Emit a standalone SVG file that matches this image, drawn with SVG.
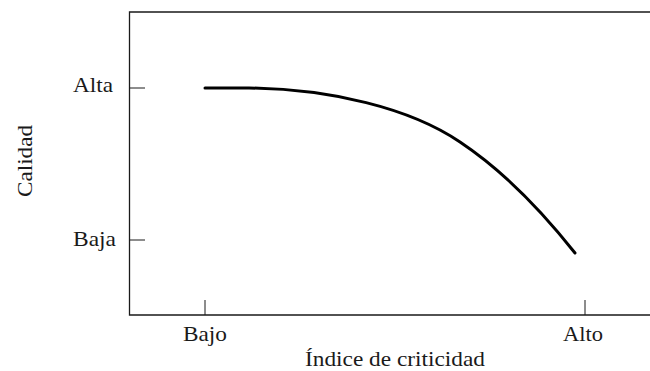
<svg xmlns="http://www.w3.org/2000/svg" width="650" height="371" viewBox="0 0 650 371">
<style>
.ax{stroke:#1a1a1a;stroke-width:1.3;fill:none}
.tk{stroke:#1a1a1a;stroke-width:1;fill:none}
.lb{font-family:'Liberation Serif','Times New Roman',Times,serif;font-size:21px;fill:#1a1a1a}
.cv{stroke:#000;stroke-width:3;fill:none;stroke-linecap:round;stroke-linejoin:round}
</style>
<rect width="650" height="371" fill="#fff"/>
<g id="axes">
<polyline class="ax" points="652,12 129.5,12 129.5,315 652,315"/>
<line class="tk" x1="129.5" y1="88" x2="145" y2="88"/>
<line class="tk" x1="129.5" y1="240" x2="145" y2="240"/>
<line class="tk" x1="205" y1="300" x2="205" y2="315"/>
<line class="tk" x1="585" y1="300" x2="585" y2="315"/>
</g>
<g id="labels">
<text class="lb" x="73" y="92" textLength="40" lengthAdjust="spacingAndGlyphs">Alta</text>
<text class="lb" x="73" y="246" textLength="43" lengthAdjust="spacingAndGlyphs">Baja</text>
<text class="lb" x="183" y="341" textLength="44" lengthAdjust="spacingAndGlyphs">Bajo</text>
<text class="lb" x="563" y="341" textLength="40" lengthAdjust="spacingAndGlyphs">Alto</text>
<text class="lb" x="305" y="366" textLength="180" lengthAdjust="spacingAndGlyphs">Índice de criticidad</text>
<text class="lb" transform="translate(32,197) rotate(-90)" textLength="72" lengthAdjust="spacingAndGlyphs">Calidad</text>
</g>
<g id="curve">
<path class="cv" d="M205,88 L249,88 C330,89 410,108 460,142 C505,172 545,215 575,253"/>
</g>
</svg>
